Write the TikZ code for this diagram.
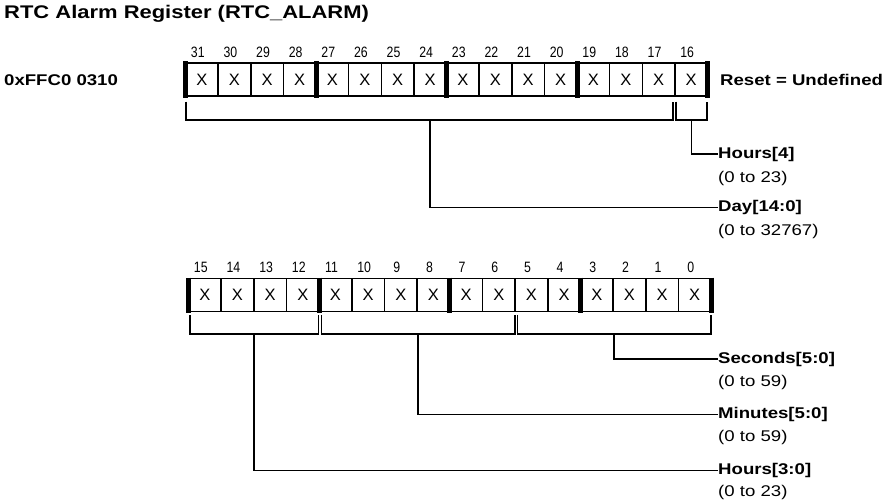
\documentclass[tikz,border=0pt]{standalone}
\usepackage{fontspec}
\setmainfont{Liberation Sans}[FakeStretch=1.2]
\newfontfamily\cellfont{Liberation Sans}
\newfontfamily\numfont{Liberation Sans}[FakeStretch=0.82]
\usetikzlibrary{calc}
\begin{document}
\begin{tikzpicture}[x=1pt,y=-1pt,
  cell/.style={draw, line width=1.5pt, minimum width=32.63pt, minimum height=33pt, inner sep=0pt, font=\cellfont\fontsize{16.5}{16.5}\selectfont},
  bitnum/.style={inner sep=0pt, font=\numfont\fontsize{15}{15}\selectfont},
  lbl/.style={anchor=west, inner sep=0pt, font=\bfseries\fontsize{15.5}{15.5}\selectfont},
  rng/.style={anchor=west, inner sep=0pt, font=\fontsize{15.5}{15.5}\selectfont},
  ttl/.style={anchor=west, inner sep=0pt, font=\bfseries\fontsize{18.3}{18.3}\selectfont},
  bar/.style={line width=5pt},
  wire/.style={line width=1.7pt}
]
\useasboundingbox (0,0) rectangle (890,502);

% title and side texts
\node[ttl] (title) at (4,14) {RTC Alarm Register (RTC\_ALARM)};
\node[lbl] (addr) at (4,80) {0xFFC0 0310};
\node[lbl] (reset) at (720,80) {Reset = Undefined};

% top register
\foreach \i in {31,30,...,16} {
  \pgfmathsetmacro\k{31-\i}
  \node[cell] (t\i) at ({185.5+(\k+0.5)*32.625},79.5) {X};
  \node[bitnum] (tn\i) at ({185.5+(\k+0.5)*32.625-4},52) {\i};
}
\foreach \m in {0,...,4}
  \draw[bar] ({185.5+\m*130.5},61.5) -- ({185.5+\m*130.5},98);

% bottom register
\foreach \i in {15,14,...,0} {
  \pgfmathsetmacro\k{15-\i}
  \node[cell] (b\i) at ({188.5+(\k+0.5)*32.66},295) {X};
  \node[bitnum] (bn\i) at ({188.5+(\k+0.5)*32.66-4},267) {\i};
}
\foreach \m in {0,...,4}
  \draw[bar] ({188.5+\m*130.64},277.5) -- ({188.5+\m*130.64},313);

% labels
\node[lbl] (hfour) at (718,154) {Hours[4]};
\node[rng] (hfourr) at (718,178) {(0 to 23)};
\node[lbl] (day) at (718,207.5) {Day[14:0]};
\node[rng] (dayr) at (718,231) {(0 to 32767)};
\node[lbl] (sec) at (718,359) {Seconds[5:0]};
\node[rng] (secr) at (718,382) {(0 to 59)};
\node[lbl] (min) at (718,414.5) {Minutes[5:0]};
\node[rng] (minr) at (718,437) {(0 to 59)};
\node[lbl] (hrs) at (718,470.5) {Hours[3:0]};
\node[rng] (hrsr) at (718,492) {(0 to 23)};

% top brackets
\coordinate (dA) at ([xshift=1.5pt,yshift=-5pt]t31.south west);
\coordinate (dB) at ([xshift=-2.5pt,yshift=-5pt]t17.south east);
\draw[wire] (dA) -- ++(0,18.5) -| (dB);
\draw[wire] ($(dA)!0.5!(dB)$) ++(0,18.5) |- (day.west);

\coordinate (hA) at ([xshift=2pt,yshift=-5pt]t16.south west);
\coordinate (hB) at ([xshift=-1.5pt,yshift=-5pt]t16.south east);
\draw[wire] (hA) -- ++(0,18.5) -| (hB);
\draw[wire] ($(hA)!0.5!(hB)$) ++(0,18.5) |- (hfour.west);

% bottom brackets
\coordinate (rA) at ([xshift=2.2pt,yshift=-2.5pt]b15.south west);
\coordinate (rB) at ([xshift=-1.4pt,yshift=-2.5pt]b12.south east);
\draw[wire] (rA) -- ++(0,19) -| (rB);
\draw[wire] ($(rA)!0.5!(rB)$) ++(0,19) |- (hrs.west);

\coordinate (mA) at ([xshift=3.2pt,yshift=-2.5pt]b11.south west);
\coordinate (mB) at ([xshift=-1pt,yshift=-2.5pt]b6.south east);
\draw[wire] (mA) -- ++(0,19) -| (mB);
\draw[wire] ($(mA)!0.5!(mB)$) ++(0,19) |- (min.west);

\coordinate (sA) at ([xshift=3pt,yshift=-2.5pt]b5.south west);
\coordinate (sB) at ([xshift=-1pt,yshift=-2.5pt]b0.south east);
\draw[wire] (sA) -- ++(0,19) -| (sB);
\draw[wire] ($(sA)!0.5!(sB)$) ++(0,19) |- (sec.west);
\end{tikzpicture}
\end{document}
